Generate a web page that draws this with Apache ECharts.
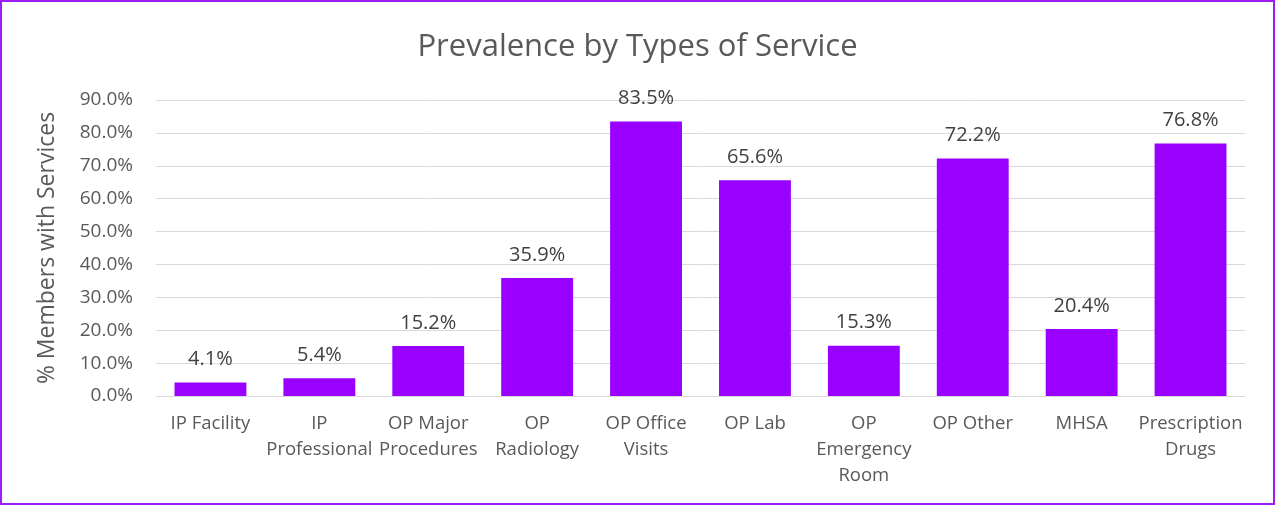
<!DOCTYPE html>
<html><head><meta charset="utf-8">
<script src="https://cdn.jsdelivr.net/npm/echarts@6/dist/echarts.min.js"></script>
<style>html,body{margin:0;padding:0;background:#fff}#c{width:1275px;height:505px;box-sizing:border-box;border:2px solid #9D1EF5}</style>
</head><body><div id="c"></div>
<script>
var categories = ["IP Facility","IP\nProfessional","OP Major\nProcedures","OP\nRadiology","OP Office\nVisits","OP Lab","OP\nEmergency\nRoom","OP Other","MHSA","Prescription\nDrugs"];
var values = [4.1,5.4,15.2,35.9,83.5,65.6,15.3,72.2,20.4,76.8];
var yTicks = {min:0,max:90,interval:10};
var chart = echarts.init(document.getElementById('c'));
var F = "'Open Sans', sans-serif";
chart.setOption({
  animation:false,
  title:{text:'Prevalence by Types of Service',left:'center',top:25,textStyle:{fontFamily:F,fontSize:31,fontWeight:'normal',color:'#595959'}},
  grid:{left:154,right:28,top:98,bottom:107,containLabel:false},
  xAxis:{type:'category',data:categories,axisLine:{show:true,lineStyle:{color:'#D9D9D9',width:1}},axisTick:{show:false},
    axisLabel:{fontFamily:F,fontSize:18.5,color:'#595959',lineHeight:26,margin:15,interval:0}},
  yAxis:{type:'value',min:yTicks.min,max:yTicks.max,interval:yTicks.interval,
    name:'% Members with Services',nameLocation:'middle',nameGap:97,nameRotate:90,
    nameTextStyle:{fontFamily:F,fontSize:23,color:'#595959'},
    axisLine:{show:false},axisTick:{show:false},
    axisLabel:{fontFamily:F,fontSize:19,color:'#595959',margin:23,formatter:function(v){return v.toFixed(1)+'%';}},
    splitLine:{lineStyle:{color:'#D9D9D9',width:1}}},
  series:[{type:'bar',data:values,barCategoryGap:'34%',itemStyle:{color:'#9900FF'},
    label:{show:true,position:'top',distance:13,fontFamily:F,fontSize:20,color:'#404040',formatter:function(p){return p.value.toFixed(1)+'%';}}}]
});
</script></body></html>
